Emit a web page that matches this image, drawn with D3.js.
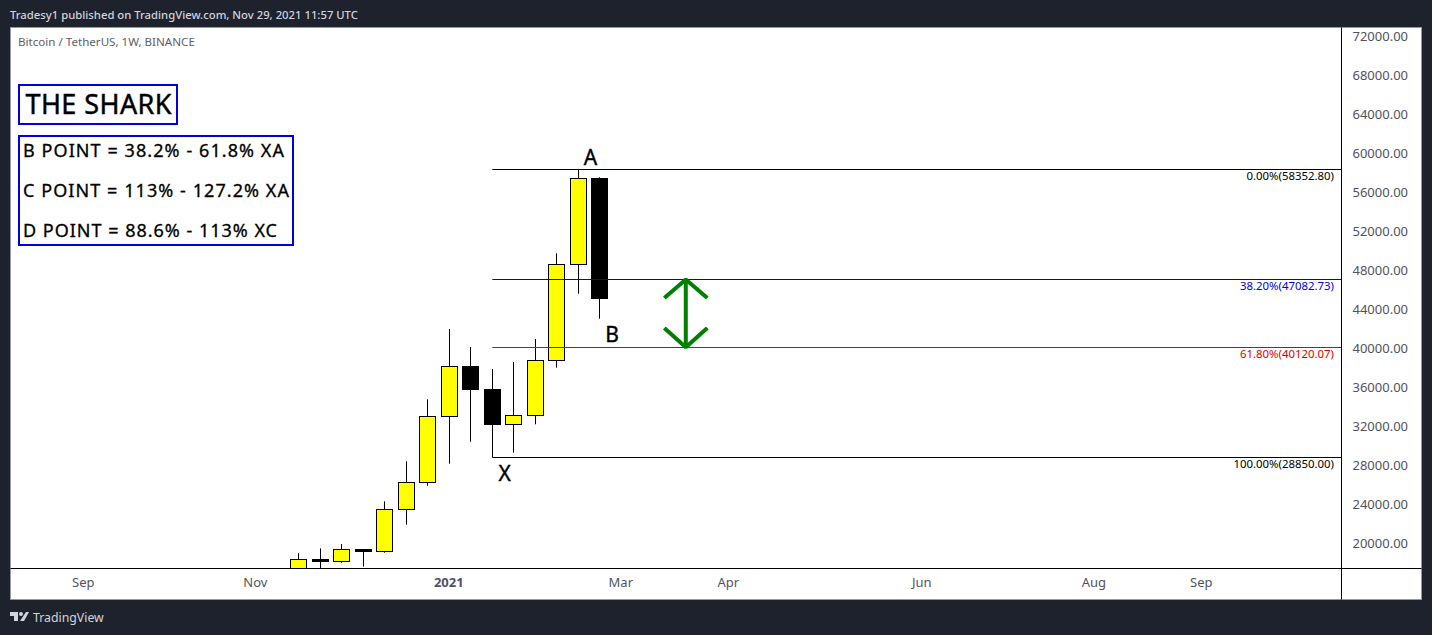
<!DOCTYPE html>
<html>
<head>
<meta charset="utf-8">
<script src="https://cdn.jsdelivr.net/npm/d3@7"></script>
<style>
  html, body { margin: 0; padding: 0; background: #1e222d; overflow: hidden; }
  text { font-family: "Noto Sans", sans-serif; }
</style>
</head>
<body>
<div id="chart"></div>
<script>
// weekly candles
var dates = ["2020-11-16","2020-11-23","2020-11-30","2020-12-07","2020-12-14","2020-12-21","2020-12-28",
             "2021-01-04","2021-01-11","2021-01-18","2021-01-25","2021-02-01","2021-02-08","2021-02-15","2021-02-22"];
var opens  = [15960,18370,18185,19430,19200,23507,26277,33045,38173,35774,32225,33148,38790,48634,57455];
var highs  = [18995,19500,19950,19436,24330,28430,34790,41999,40153,37897,38615,40975,49763,58352,57560];
var lows   = [14900,16190,18030,17630,19056,21928,25928,28184,30441,28850,29312,32225,38030,45619,43055];
var closes = [18380,18185,19405,19230,23507,26277,33045,38173,35774,32184,33148,38790,48634,57455,45106];

var priceTicks = [20000,24000,28000,32000,36000,40000,44000,48000,52000,56000,60000,64000,68000,72000];
var timeTicks = ["2020-09-07","2020-11-02","2021-01-04","2021-03-01","2021-04-05","2021-06-07","2021-08-02","2021-09-06"];
var timeLabels = ["Sep","Nov","2021","Mar","Apr","Jun","Aug","Sep"];

// fib levels
var fibPrices = [58352.80,47082.73,40120.07,28850.00];
var fibPcts   = ["0.00","38.20","61.80","100.00"];
var fibColors = ["#000000","#0000e0","#e00000","#000000"];
var fibStart = "2021-01-18";

var infoLines = ["B POINT = 38.2% - 61.8% XA","C POINT = 113% - 127.2% XA","D POINT = 88.6% - 113% XC"];

// point labels: name, date, price
var pointNames  = ["A","B","X"];
var pointDates  = ["2021-02-19","2021-02-26","2021-01-22"];
var pointPrices = [59350,41200,27000];

var width = 1432, height = 635;
var pane = {left: 10.5, right: 1421.5, top: 27.5, bottom: 599.5, axisX: 1341.5, axisY: 568.5};
var parse = d3.utcParse("%Y-%m-%d");

var x = d3.scaleUtc()
  .domain([parse("2020-09-07"), parse("2021-09-06")])
  .range([83.8, 1201.8]);

var y = d3.scaleLinear()
  .domain([20000, 72000])
  .range([543.5, 36.5]);

var svg = d3.select("#chart").append("svg")
  .attr("width", width)
  .attr("height", height)
  .style("display", "block");

// frame
svg.append("rect")
  .attr("x", pane.left).attr("y", pane.top)
  .attr("width", pane.right - pane.left).attr("height", pane.bottom - pane.top)
  .attr("fill", "#ffffff").attr("stroke", "#9598a1");

svg.append("text")
  .attr("x", 10).attr("y", 19)
  .attr("font-size", 11.3).attr("font-weight", 500).attr("fill", "#d1d4dc")
  .text("Tradesy1 published on TradingView.com, Nov 29, 2021 11:57 UTC");

svg.append("text")
  .attr("x", 18).attr("y", 46)
  .attr("font-size", 11.6).attr("fill", "#5d606b")
  .text("Bitcoin / TetherUS, 1W, BINANCE");

svg.append("defs").append("clipPath").attr("id", "paneClip")
  .append("rect")
  .attr("x", pane.left).attr("y", pane.top)
  .attr("width", pane.axisX - pane.left).attr("height", pane.axisY - pane.top);

var plot = svg.append("g").attr("clip-path", "url(#paneClip)");

// candles
var snap = function(v) { return Math.round(v - 0.5) + 0.5; };
var bodyW = 16;
var candles = plot.selectAll("g.candle")
  .data(dates.map(function(d, i) {
    return {date: parse(d), open: opens[i], high: highs[i], low: lows[i], close: closes[i]};
  }))
  .enter().append("g").attr("class", "candle");

candles.append("line")
  .attr("x1", d => snap(x(d.date))).attr("x2", d => snap(x(d.date)))
  .attr("y1", d => y(d.high)).attr("y2", d => y(d.low))
  .attr("stroke", "#000").attr("stroke-width", 1);

candles.append("rect")
  .attr("x", d => snap(x(d.date)) - bodyW / 2)
  .attr("width", bodyW)
  .attr("y", d => snap(y(Math.max(d.open, d.close))))
  .attr("height", d => Math.max(1, snap(y(Math.min(d.open, d.close))) - snap(y(Math.max(d.open, d.close)))))
  .attr("fill", d => d.close >= d.open ? "#ffff00" : "#000000")
  .attr("stroke", "#000").attr("stroke-width", 1);

// fib lines
var fibs = plot.selectAll("g.fib")
  .data(fibPrices.map(function(p, i) { return {price: p, pct: fibPcts[i], color: fibColors[i]}; }))
  .enter().append("g").attr("class", "fib");

fibs.append("line")
  .attr("x1", x(parse(fibStart)))
  .attr("x2", pane.axisX)
  .attr("y1", d => snap(y(d.price))).attr("y2", d => snap(y(d.price)))
  .attr("stroke", d => d.color).attr("stroke-width", 1);

fibs.append("text")
  .attr("x", 1334)
  .attr("y", d => snap(y(d.price)) + 10)
  .attr("text-anchor", "end")
  .attr("font-size", 11.4)
  .attr("fill", d => d.color)
  .text(d => d.pct + "%(" + d.price.toFixed(2) + ")");

// green double arrow between the 38.2 and 61.8 levels
var arrowMid = parse("2021-03-22"), arrowL = parse("2021-03-15"), arrowR = parse("2021-03-29");
var arrowLine = d3.line().x(d => x(d[0])).y(d => y(d[1]));
[
  [[arrowMid, fibPrices[1]], [arrowMid, fibPrices[2]]],
  [[arrowL, 45180], [arrowMid, fibPrices[1]], [arrowR, 45180]],
  [[arrowL, 42100], [arrowMid, fibPrices[2]], [arrowR, 42100]]
].forEach(function(pts) {
  plot.append("path")
    .attr("d", arrowLine(pts))
    .attr("fill", "none").attr("stroke", "#008000").attr("stroke-width", 4)
    .attr("stroke-linejoin", "bevel");
});

// A B X
plot.selectAll("text.point")
  .data(pointNames)
  .enter().append("text")
  .attr("class", "point")
  .attr("x", (d, i) => x(parse(pointDates[i])))
  .attr("y", (d, i) => y(pointPrices[i]))
  .attr("text-anchor", "middle")
  .attr("dominant-baseline", "middle")
  .attr("font-size", 21)
  .attr("fill", "#000")
  .attr("stroke", "#000").attr("stroke-width", 0.4)
  .text(d => d);

// axes
var rightAxis = d3.axisRight(y).tickValues(priceTicks).tickSize(0).tickPadding(11)
  .tickFormat(d => d.toFixed(2));
var gy = svg.append("g").attr("transform", "translate(" + pane.axisX + ",0)").call(rightAxis);
gy.select(".domain").remove();
gy.selectAll("text").attr("font-size", 13).attr("fill", "#50535e").style("font-family", '"Noto Sans", sans-serif');

var bottomAxis = d3.axisBottom(x).tickValues(timeTicks.map(parse)).tickSize(0).tickPadding(9)
  .tickFormat((d, i) => timeLabels[i]);
var gx = svg.append("g").attr("transform", "translate(-1," + pane.axisY + ")").call(bottomAxis);
gx.select(".domain").remove();
gx.selectAll("text")
  .attr("font-size", 13).attr("fill", "#50535e")
  .attr("font-weight", (d, i) => timeLabels[i] == "2021" ? 700 : 400)
  .style("font-family", '"Noto Sans", sans-serif');

svg.append("line").attr("x1", pane.left).attr("x2", pane.right)
  .attr("y1", pane.axisY).attr("y2", pane.axisY).attr("stroke", "#000");
svg.append("line").attr("x1", pane.axisX).attr("x2", pane.axisX)
  .attr("y1", pane.top).attr("y2", pane.bottom).attr("stroke", "#000");

// note boxes
svg.append("rect").attr("x", 19).attr("y", 85).attr("width", 158).attr("height", 39)
  .attr("fill", "#fff").attr("stroke", "#0000e6").attr("stroke-width", 2);
svg.append("text").attr("x", 25.5).attr("y", 114)
  .attr("font-size", 27).attr("fill", "#000")
  .attr("stroke", "#000").attr("stroke-width", 0.45)
  .attr("textLength", 146).attr("lengthAdjust", "spacing")
  .text("THE SHARK");

svg.append("rect").attr("x", 19).attr("y", 136).attr("width", 274).attr("height", 109)
  .attr("fill", "#fff").attr("stroke", "#0000e6").attr("stroke-width", 2);
var infoLens = [261, 266, 254];
svg.selectAll("text.info")
  .data(infoLines)
  .enter().append("text")
  .attr("class", "info")
  .attr("x", 23)
  .attr("y", (d, i) => 157 + i * 40)
  .attr("font-size", 18)
  .attr("fill", "#000")
  .attr("stroke", "#000").attr("stroke-width", 0.3)
  .attr("textLength", (d, i) => infoLens[i])
  .attr("lengthAdjust", "spacing")
  .text(d => d);

// TradingView logo and name
var logo = svg.append("g").attr("transform", "translate(10,612)").attr("fill", "#d1d4dc");
logo.append("path").attr("d", "M0 0H8V9H4V4H0Z");
logo.append("circle").attr("cx", 11).attr("cy", 2).attr("r", 2);
logo.append("path").attr("d", "M16 0H19L14 9H10Z");
svg.append("text").attr("x", 33).attr("y", 622)
  .attr("font-size", 12.3).attr("fill", "#d1d4dc")
  .text("TradingView");
</script>
</body>
</html>
